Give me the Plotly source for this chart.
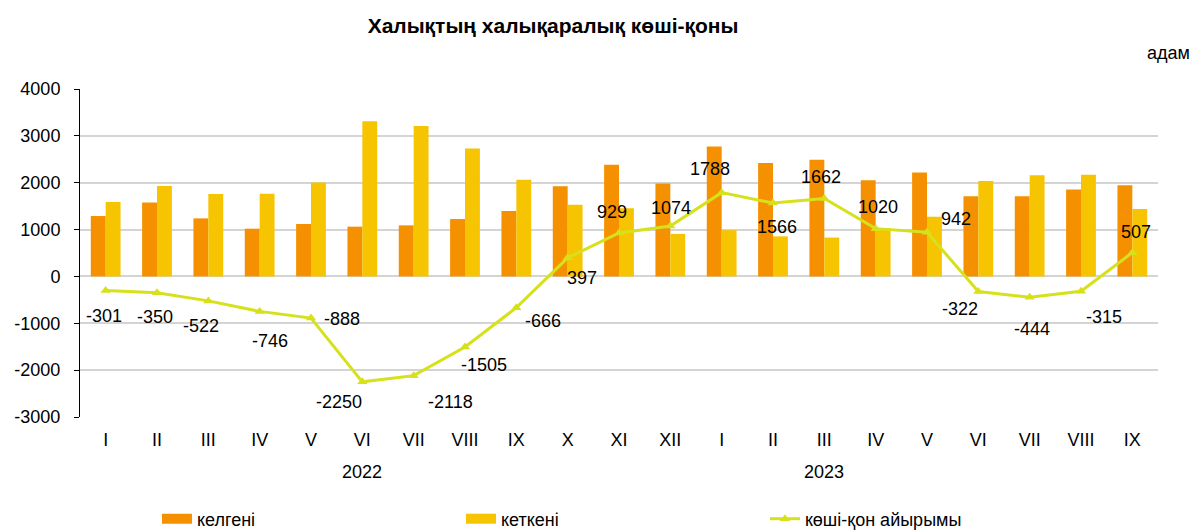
import plotly.graph_objects as go

months = ["I", "II", "III", "IV", "V", "VI", "VII", "VIII", "IX", "X", "XI", "XII",
          "I", "II", "III", "IV", "V", "VI", "VII", "VIII", "IX"]
years = ["2022", "2023"]
year_label_idx = [5, 14]

arrived = [1289, 1579, 1239, 1019, 1119, 1062, 1090, 1225, 1395, 1926, 2386, 1982,
           2775, 2421, 2492, 2053, 2216, 1713, 1713, 1855, 1947]
departed = [1590, 1929, 1761, 1765, 2007, 3312, 3208, 2730, 2061, 1529, 1457, 908,
            987, 855, 830, 1033, 1274, 2035, 2157, 2170, 1440]
net = [-301, -350, -522, -746, -888, -2250, -2118, -1505, -666, 397, 929, 1074,
       1788, 1566, 1662, 1020, 942, -322, -444, -315, 507]

# data-label offsets from their point (px): style only
label_dx = [-2, -2, -7, 10, 31, -23, 37, 19, 27, 14, -7, 1, -12, 4, -3, 2, 29, -18, 2, 23, 4]
label_dy = [25, 24, 25, 30, 1, 20, 26, 18, 13, 20, -21, -18, -24, 24, -22, -22, -13, 17, 32, 26, -21]

y_ticks = [-3000, -2000, -1000, 0, 1000, 2000, 3000, 4000]
y_tick_text = ["-3000", "-2000", "-1000", "0", "1000", "2000", "3000", "4000"]

x = list(range(len(months)))
FONT = "Liberation Sans, Arial"
FS = 18
C_IN, C_OUT, C_NET = "#F59100", "#F6C400", "#D6E11B"

fig = go.Figure()
fig.add_trace(go.Bar(x=x, y=arrived, name="келгені", marker_color=C_IN,
                     marker_line_width=0, showlegend=False, legendgroup="in"))
fig.add_trace(go.Bar(x=x, y=departed, name="кеткені", marker_color=C_OUT,
                     marker_line_width=0, showlegend=False, legendgroup="out"))
# legend-only entries giving wide rectangular swatches like the original
fig.add_trace(go.Scatter(x=[None], y=[None], name="келгені", mode="lines",
                         line=dict(color=C_IN, width=12), legendgroup="in",
                         legendrank=1, hoverinfo="skip"))
fig.add_trace(go.Scatter(x=[None], y=[None], name="кеткені", mode="lines",
                         line=dict(color=C_OUT, width=12), legendgroup="out",
                         legendrank=2, hoverinfo="skip"))
fig.add_trace(go.Scatter(x=x, y=net, name="көші-қон айырымы", mode="lines+markers",
                         line=dict(color=C_NET, width=3), legendrank=3,
                         marker=dict(symbol="triangle-up", size=9, color=C_NET)))

annotations = []
for xi, v, dx, dy in zip(x, net, label_dx, label_dy):
    annotations.append(dict(text=str(v), x=xi, y=v, xref="x", yref="y", showarrow=False,
                            xanchor="center", yanchor="middle", xshift=dx, yshift=-dy,
                            font=dict(size=FS, family=FONT, color="#000000")))
annotations.append(dict(text="адам", xref="paper", yref="paper", x=1.0315, y=1.11,
                        xanchor="right", yanchor="middle", showarrow=False,
                        font=dict(size=FS, family=FONT, color="#000000")))
for yr, idx in zip(years, year_label_idx):
    annotations.append(dict(text=yr, x=idx, xref="x", yref="paper", y=-0.1677,
                            xanchor="center", yanchor="middle", showarrow=False,
                            font=dict(size=FS, family=FONT, color="#000000")))

fig.update_layout(
    width=1189, height=522,
    margin=dict(l=72, r=39, t=81, b=113, autoexpand=False),
    paper_bgcolor="white", plot_bgcolor="white",
    title=dict(text="<b>Халықтың халықаралық көші-қоны</b>", x=0.4584, xanchor="center",
               y=0.967, yanchor="middle",
               font=dict(size=21, family=FONT, color="#000000")),
    barmode="group", bargap=0.42, bargroupgap=0,
    font=dict(family=FONT, size=FS, color="#000000"),
    xaxis=dict(tickmode="array", tickvals=x, ticktext=months, showgrid=False,
               zeroline=False, showline=False, ticks="", range=[-0.5, len(months) - 0.5],
               automargin=False, ticklabelstandoff=10, tickfont=dict(size=FS, family=FONT)),
    yaxis=dict(range=[-3000, 4000], tickmode="array", tickvals=y_ticks, ticktext=y_tick_text,
               showgrid=True, gridcolor="#D4D4D4",
               gridwidth=1.5, zeroline=True, zerolinecolor="#D4D4D4", zerolinewidth=1.5,
               showline=True, linecolor="#000000", linewidth=1, ticks="outside",
               ticklen=5, tickcolor="#000000", automargin=False, ticklabelstandoff=10,
               tickfont=dict(size=FS, family=FONT)),
    legend=dict(orientation="h", x=0.0714, xanchor="left", y=-0.311, yanchor="middle",
                entrywidth=259, font=dict(size=FS, family=FONT), traceorder="normal"),
    annotations=annotations,
)

fig.write_html("out.html")
